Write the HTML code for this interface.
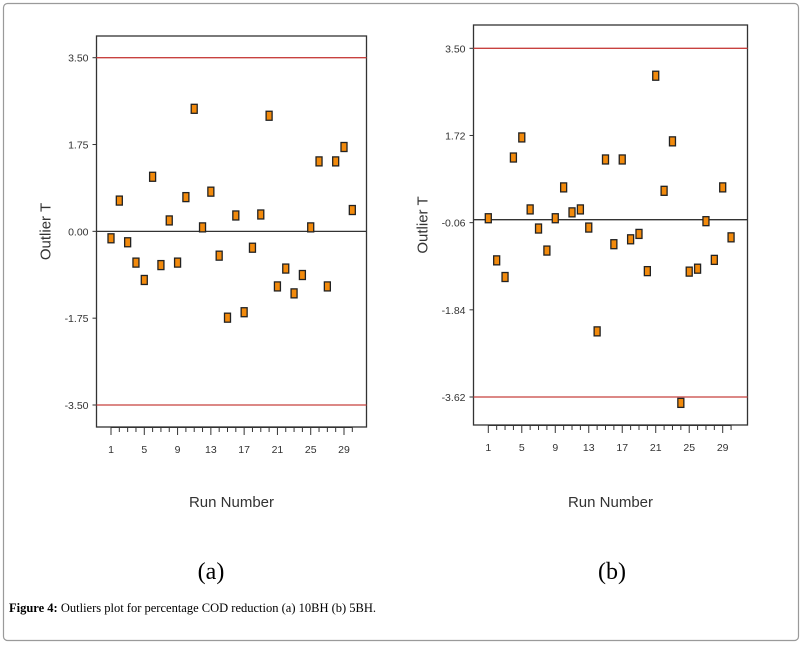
<!DOCTYPE html>
<html><head><meta charset="utf-8"><style>
html,body{margin:0;padding:0;background:#fff;}
body{width:807px;height:650px;overflow:hidden;position:relative;font-family:"Liberation Sans",sans-serif;}
</style></head><body>
<svg id="fig" width="807" height="650" xmlns="http://www.w3.org/2000/svg">
<rect x="3.5" y="3.5" width="795" height="637" rx="4" fill="#fff" stroke="#9a9a9a" stroke-width="1.2"/>
<g id="chartA"></g>
<g id="chartB"></g>
<text x="211" y="579" font-family="Liberation Serif,serif" font-size="24" text-anchor="middle">(a)</text>
<text x="612" y="579" font-family="Liberation Serif,serif" font-size="24" text-anchor="middle">(b)</text>
<text x="9" y="612" font-family="Liberation Serif,serif" font-size="12.5"><tspan font-weight="bold">Figure 4:</tspan> Outliers plot for percentage COD reduction (a) 10BH (b) 5BH.</text>
</svg>
<script>
const runs = Array.from({length:30},(_,i)=>i+1);
const valuesA = [-0.14,0.62,-0.22,-0.63,-0.98,1.10,-0.68,0.22,-0.63,0.69,2.47,0.08,0.80,-0.49,-1.74,0.32,-1.63,-0.33,0.34,2.33,-1.11,-0.75,-1.25,-0.88,0.08,1.41,-1.11,1.41,1.70,0.43];
const valuesB = [0.03,-0.83,-1.17,1.27,1.68,0.21,-0.18,-0.63,0.03,0.66,0.15,0.21,-0.16,-2.28,1.23,-0.50,1.23,-0.40,-0.29,-1.05,2.94,0.59,1.60,-3.74,-1.06,-1.00,-0.03,-0.82,0.66,-0.36];
const yTicksA = [3.50,1.75,0.00,-1.75,-3.50];
const yTicksB = [3.50,1.72,-0.06,-1.84,-3.62];
const xTickLabels = [1,5,9,13,17,21,25,29];
const limitsA = [3.5,-3.5];
const limitsB = [3.5,-3.62];
const NS="http://www.w3.org/2000/svg";
function mk(parent,tag,attrs){const e=document.createElementNS(NS,tag);for(const k in attrs)e.setAttribute(k,attrs[k]);parent.appendChild(e);return e;}
function draw(g,cfg,vals,yTicks,limits){
  const yS=v=>cfg.y0+(v-cfg.v0)*(cfg.y1-cfg.y0)/(cfg.v1-cfg.v0);
  const xS=r=>cfg.x1+(r-1)*(cfg.x29-cfg.x1)/28;
  const box=mk(g,'rect',{x:cfg.L,y:cfg.T,width:cfg.R-cfg.L,height:cfg.B-cfg.T,fill:'none',stroke:'#333','stroke-width':1.3});
  
  
  limits.forEach(v=>{const l=mk(g,'line',{x1:cfg.L,x2:cfg.R,y1:yS(v),y2:yS(v),stroke:'#c8413f','stroke-width':1.3});
    
    });
  const z=mk(g,'line',{x1:cfg.L,x2:cfg.R,y1:yS(0),y2:yS(0),stroke:'#333','stroke-width':1.3});
  
  
  yTicks.forEach(v=>{const y=yS(v);
    mk(g,'line',{x1:cfg.L-4,x2:cfg.L,y1:y,y2:y,stroke:'#333'});
    const t=mk(g,'text',{x:cfg.L-8,y:y+4,'font-size':10.5,'text-anchor':'end',fill:'#333'});t.textContent=v.toFixed(2);
    
    });
  for(let r=1;r<=30;r++){const x=xS(r);const major=(r-1)%4===0;
    mk(g,'line',{x1:x,x2:x,y1:cfg.B,y2:cfg.B+(major?8:5),stroke:'#333'});}
  mk(g,'line',{x1:xS(1),x2:xS(30),y1:cfg.B+0.5,y2:cfg.B+0.5,stroke:'#333'});
  xTickLabels.forEach(r=>{const t=mk(g,'text',{x:xS(r),y:cfg.B+26,'font-size':10.5,'text-anchor':'middle',fill:'#333'});t.textContent=r;
    
    });
  const yt=mk(g,'text',{x:0,y:0,'font-size':15,'text-anchor':'middle',fill:'#333',transform:`translate(${cfg.L-46},${(cfg.T+cfg.B)/2}) rotate(-90)`});yt.textContent='Outlier T';
  
  
  const xt=mk(g,'text',{x:(cfg.L+cfg.R)/2,y:507,'font-size':15,'text-anchor':'middle',fill:'#333'});xt.textContent='Run Number';
  
  
  vals.forEach((v,i)=>{const p=mk(g,'rect',{x:xS(runs[i])-3,y:yS(v)-4.5,width:6,height:9,fill:'#f28a0c',stroke:'#222','stroke-width':1.3});
    
    });
}
draw(document.getElementById('chartA'),{L:96.5,R:366.5,T:36,B:427,x1:111,x29:344,v0:3.5,y0:57.7,v1:-3.5,y1:405},valuesA,yTicksA,limitsA);
draw(document.getElementById('chartB'),{L:473.5,R:747.5,T:25,B:425,x1:488.3,x29:722.7,v0:3.5,y0:48.3,v1:-3.62,y1:397},valuesB,yTicksB,limitsB);
</script>
</body></html>
